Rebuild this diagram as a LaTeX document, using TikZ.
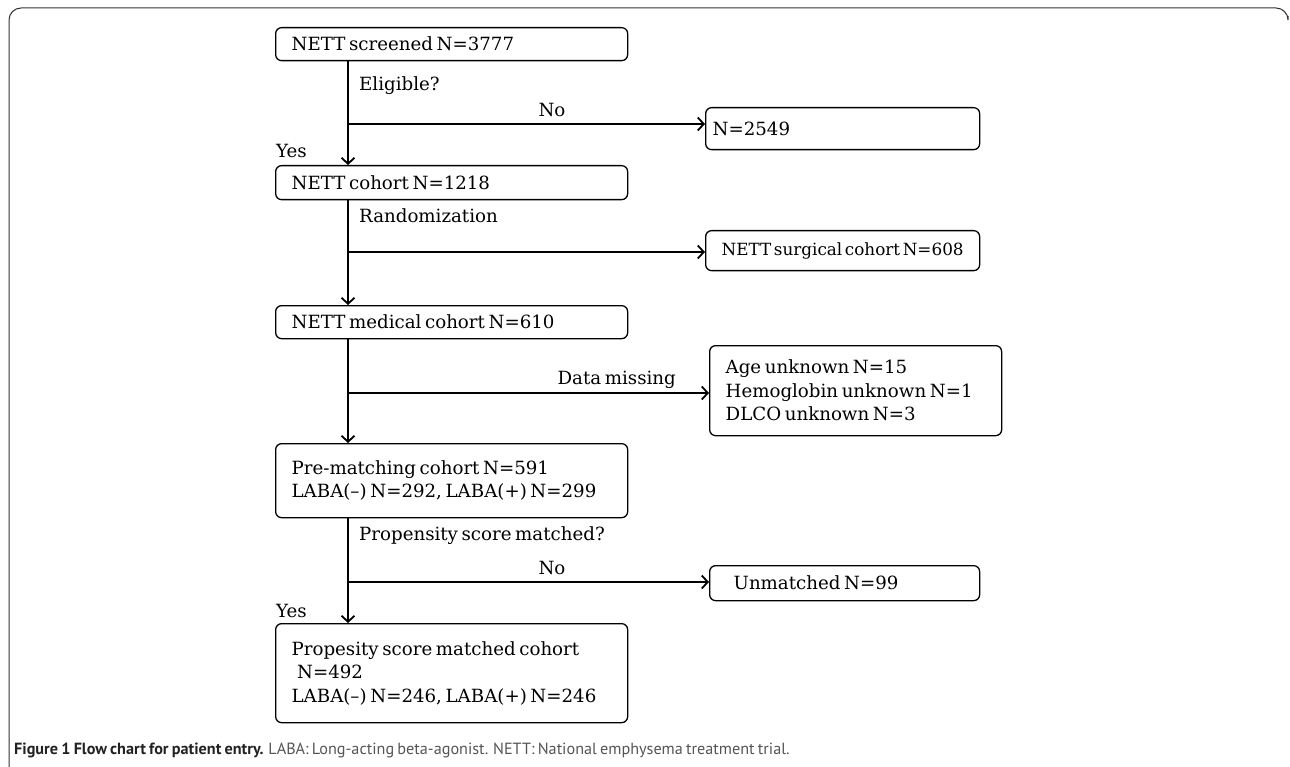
\documentclass[tikz,border=0pt]{standalone}
\usepackage{fontspec}
\usepackage{tikz}
\usetikzlibrary{positioning,arrows.meta}
\setmainfont{DejaVu Serif}
\newfontfamily\capfont{PT Sans}
\definecolor{capgray}{HTML}{555555}
\definecolor{capdark}{HTML}{222222}
\newcommand\tightspace{\spaceskip=0.2em plus 0.1em minus 0.05em\relax
  \hyphenpenalty=10000\relax}

\begin{document}
\begin{tikzpicture}[x=1pt,y=-1pt,
  font=\fontsize{18.2}{23.5}\selectfont,
  every node/.append style={execute at begin node=\tightspace},
  box/.style={draw, rounded corners=6pt, line width=1.3pt, anchor=north west,
    align=left, inner ysep=0pt},
  label/.style={inner sep=0pt},
  flow/.style={line width=1.8pt, -{Straight Barb[length=6pt,width=13pt]}},
  frame/.style={line width=1pt, draw=black!80, rounded corners=12pt}]
\useasboundingbox (0,0) rectangle (1290,767);
\draw[frame] (9,769) -- (9,8) -- (1288,8) -- (1288,16);
% main column
\node (screened) [box, text width=320pt, inner xsep=16pt, minimum height=33pt]
  at (275,27) {NETT screened N=3777};
\node (cohort) [box, text width=320pt, inner xsep=16pt, minimum height=34pt]
  at (275,165) {NETT cohort N=1218};
\node (medical) [box, text width=320pt, inner xsep=16pt, minimum height=33pt]
  at (275,305) {NETT medical cohort N=610};
\node (prematch) [box, text width=320pt, inner xsep=16pt, minimum height=74pt]
  at (275,443) {Pre-matching cohort N=591\\LABA(--)~N=292,~LABA(+)~N=299};
\node (matched) [box, text width=320pt, inner xsep=16pt, minimum height=99pt]
  at (275,623) {Propesity score matched cohort\\\hspace{0.3em}N=492\\
  LABA(--)~N=246,~LABA(+)~N=246};
% side boxes
\node (excluded) [box, text width=260pt, inner xsep=7pt, minimum height=42pt]
  at (705,107) {N=2549};
\node (surgical) [box, text width=242pt, inner xsep=16pt, minimum height=40pt,
  font=\fontsize{16.8}{20}\selectfont]
  at (705,230) {NETT~surgical~cohort~N=608};
\node (missing) [box, text width=260pt, inner xsep=16pt, minimum height=90pt]
  at (709,345) {Age unknown N=15\\Hemoglobin~unknown~N=1\\DLCO unknown N=3};
\node (unmatched) [box, text width=222pt, inner xsep=24pt, minimum height=35pt]
  at (709,565) {Unmatched N=99};
% labels
\node (elig) [label, anchor=west] at (359,86) {Eligible?};
\node (no1) [label] at (552,110) {No};
\node (yes1) [label, anchor=west] at (276,151) {Yes};
\node (rand) [label, anchor=west] at (359,216) {Randomization};
\node (datamiss) [label, anchor=east] at (676,380) {Data missing};
\node (propq) [label, anchor=west] at (359,536) {Propensity score matched?};
\node (no2) [label] at (552,568) {No};
\node (yes2) [label, anchor=west] at (276,611) {Yes};
% connectors
\coordinate (trunk) at (348,0);
\coordinate (j1) at (348,124);
\coordinate (j2) at (348,252);
\coordinate (j3) at (348,393);
\coordinate (j4) at (348,582);
\draw[flow] (trunk |- screened.south) -- (trunk |- cohort.north);
\draw[flow] (trunk |- cohort.south) -- (trunk |- medical.north);
\draw[flow] (trunk |- medical.south) -- (trunk |- prematch.north);
\draw[flow] (trunk |- prematch.south) -- (trunk |- matched.north);
\draw[flow] (j1) -- (excluded.west |- j1);
\draw[flow] (j2) -- (surgical.west |- j2);
\draw[flow] (j3) -- (missing.west |- j3);
\draw[flow] (j4) -- (unmatched.west |- j4);
% caption
\node (caption) [label, anchor=west, font=\capfont\fontsize{16.2}{18}\selectfont]
  at (14,750) {\textcolor{capdark}{\bfseries Figure 1 Flow chart for patient entry.}
  \textcolor{capgray}{LABA: Long-acting beta-agonist. NETT: National emphysema treatment trial.}};
\end{tikzpicture}
\end{document}
